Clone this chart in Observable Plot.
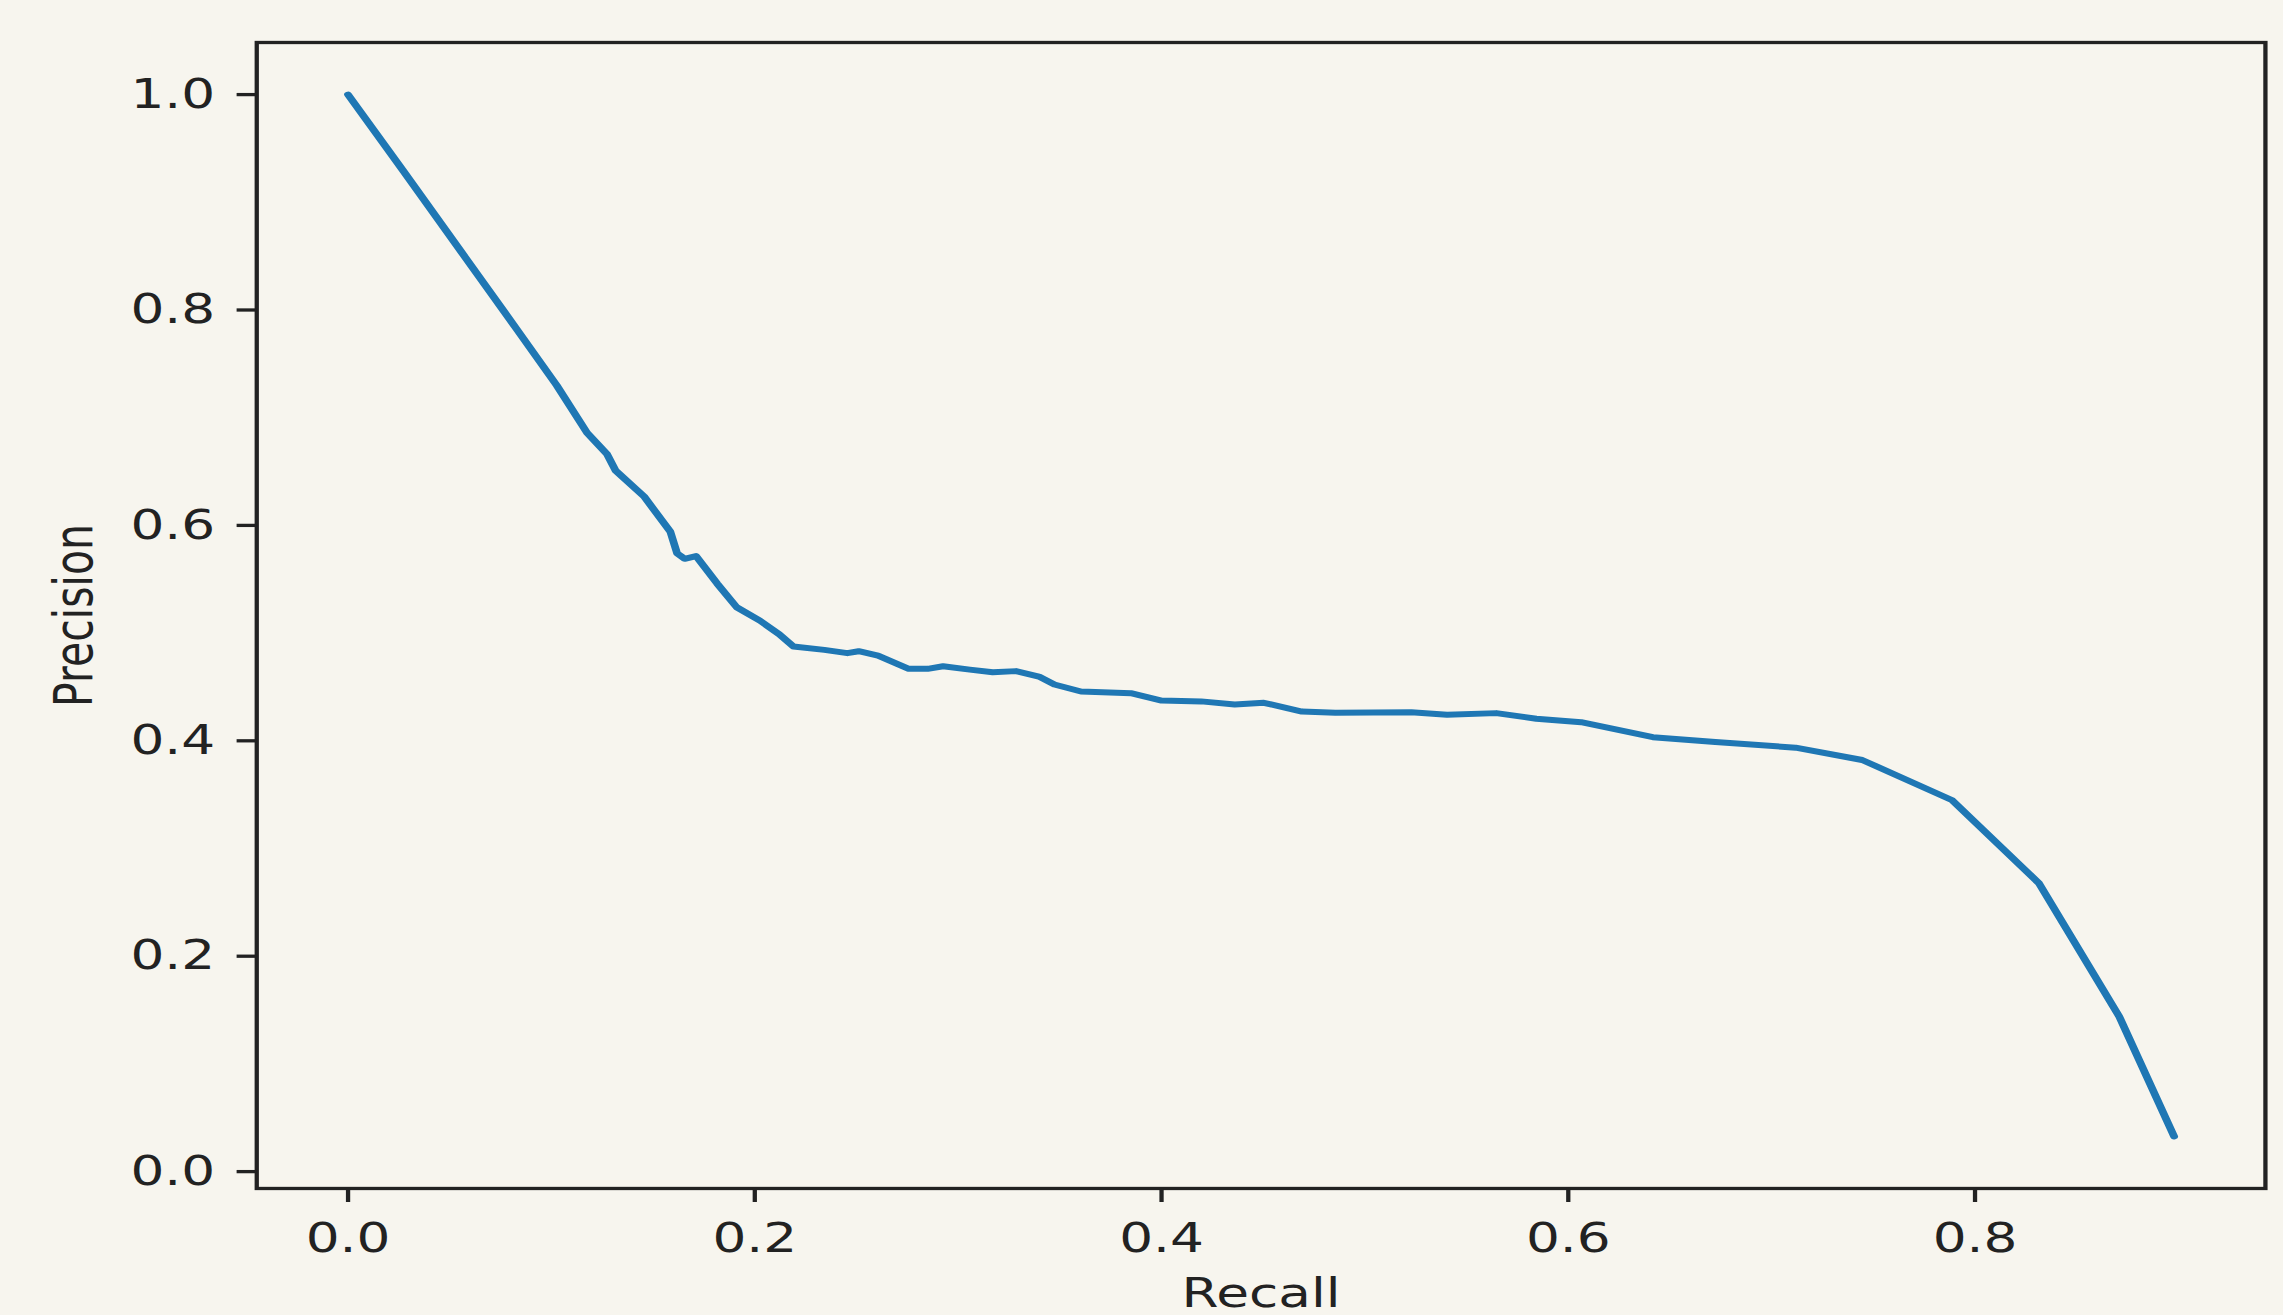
<!DOCTYPE html>
<html>
<head>
<meta charset="utf-8">
<script src="https://cdn.jsdelivr.net/npm/d3@7"></script>
<script src="https://cdn.jsdelivr.net/npm/@observablehq/plot@0.6"></script>
<style>
  html, body { margin: 0; padding: 0; background: #f7f5ee; overflow: hidden; }
  #chart { transform: scaleX(1.3); transform-origin: 0 0; width: 1757px; }
</style>
</head>
<body>
<div id="chart"></div>
<script>
// Precision-recall curve values
const recall = [
  0.0, 0.0272, 0.0568, 0.083, 0.1026, 0.1175, 0.1274, 0.1315, 0.1455, 0.1585,
  0.1618, 0.1655, 0.1711, 0.1815, 0.1911, 0.2025, 0.2120, 0.2190, 0.2342, 0.2455,
  0.2511, 0.2606, 0.2757, 0.2850, 0.2926, 0.3057, 0.3170, 0.3284, 0.3397, 0.3473,
  0.3604, 0.3849, 0.4000, 0.4195, 0.4360, 0.4503, 0.4690, 0.4855, 0.5228, 0.5404,
  0.5646, 0.5843, 0.6063, 0.6416, 0.6723, 0.7118, 0.7445, 0.7888, 0.8315, 0.8709,
  0.8979
];
const precision = [
  1.0, 0.929, 0.851, 0.782, 0.730, 0.686, 0.666, 0.651, 0.627, 0.594,
  0.574, 0.569, 0.5715, 0.546, 0.524, 0.5116, 0.499, 0.4875, 0.4844, 0.4814,
  0.4832, 0.4791, 0.4668, 0.4668, 0.4692, 0.4661, 0.4637, 0.4647, 0.4597, 0.4523,
  0.4458, 0.4442, 0.4374, 0.4366, 0.4337, 0.4353, 0.4272, 0.4260, 0.4266, 0.4241,
  0.4257, 0.4205, 0.4173, 0.4034, 0.3988, 0.3936, 0.3822, 0.3448, 0.2676, 0.1441,
  0.0327
];
const xTicks = [0.0, 0.2, 0.4, 0.6, 0.8];
const yTicks = [0.0, 0.2, 0.4, 0.6, 0.8, 1.0];
const xLabel = "Recall";
const yLabel = "Precision";

const data = recall.map((r, i) => ({recall: r, precision: precision[i]}));
function padded(v) {
  const [a, b] = d3.extent(v);
  const m = (b - a) * 0.05;
  return [a - m, b + m];
}

const SX = 1.3;
const W = 2283 / SX;
const H = 1315;
const ink = "#222222";
const fs = 41;

const chart = Plot.plot({
  width: W,
  height: H,
  marginLeft: 197,
  marginRight: 14,
  marginTop: 42,
  marginBottom: 127,
  style: {background: "#f7f5ee", fontFamily: "DejaVu Sans, sans-serif", fontSize: fs + "px", color: ink},
  x: {domain: padded(recall)},
  y: {domain: padded(precision)},
  marks: [
    Plot.line(data, {x: "recall", y: "precision", stroke: "#1f77b4", strokeWidth: 6}),
    Plot.frame({stroke: ink, strokeWidth: 3.3}),
    Plot.axisX(xTicks, {tickSize: 14, tickPadding: 20, tickFormat: d3.format(".1f"), strokeWidth: 3.3, label: null, fontSize: fs}),
    Plot.axisY(yTicks, {tickSize: 15, tickPadding: 17, tickFormat: d3.format(".1f"), strokeWidth: 3.3, label: null, fontSize: fs}),
    Plot.text([xLabel], {frameAnchor: "bottom", textAnchor: "middle", lineAnchor: "top", dy: 89, fontSize: fs, fill: ink}),
    Plot.text([yLabel], {frameAnchor: "left", textAnchor: "middle", lineAnchor: "middle", rotate: -90, dx: -140, fontSize: fs, fill: ink})
  ]
});
document.getElementById("chart").appendChild(chart);
</script>
</body>
</html>
